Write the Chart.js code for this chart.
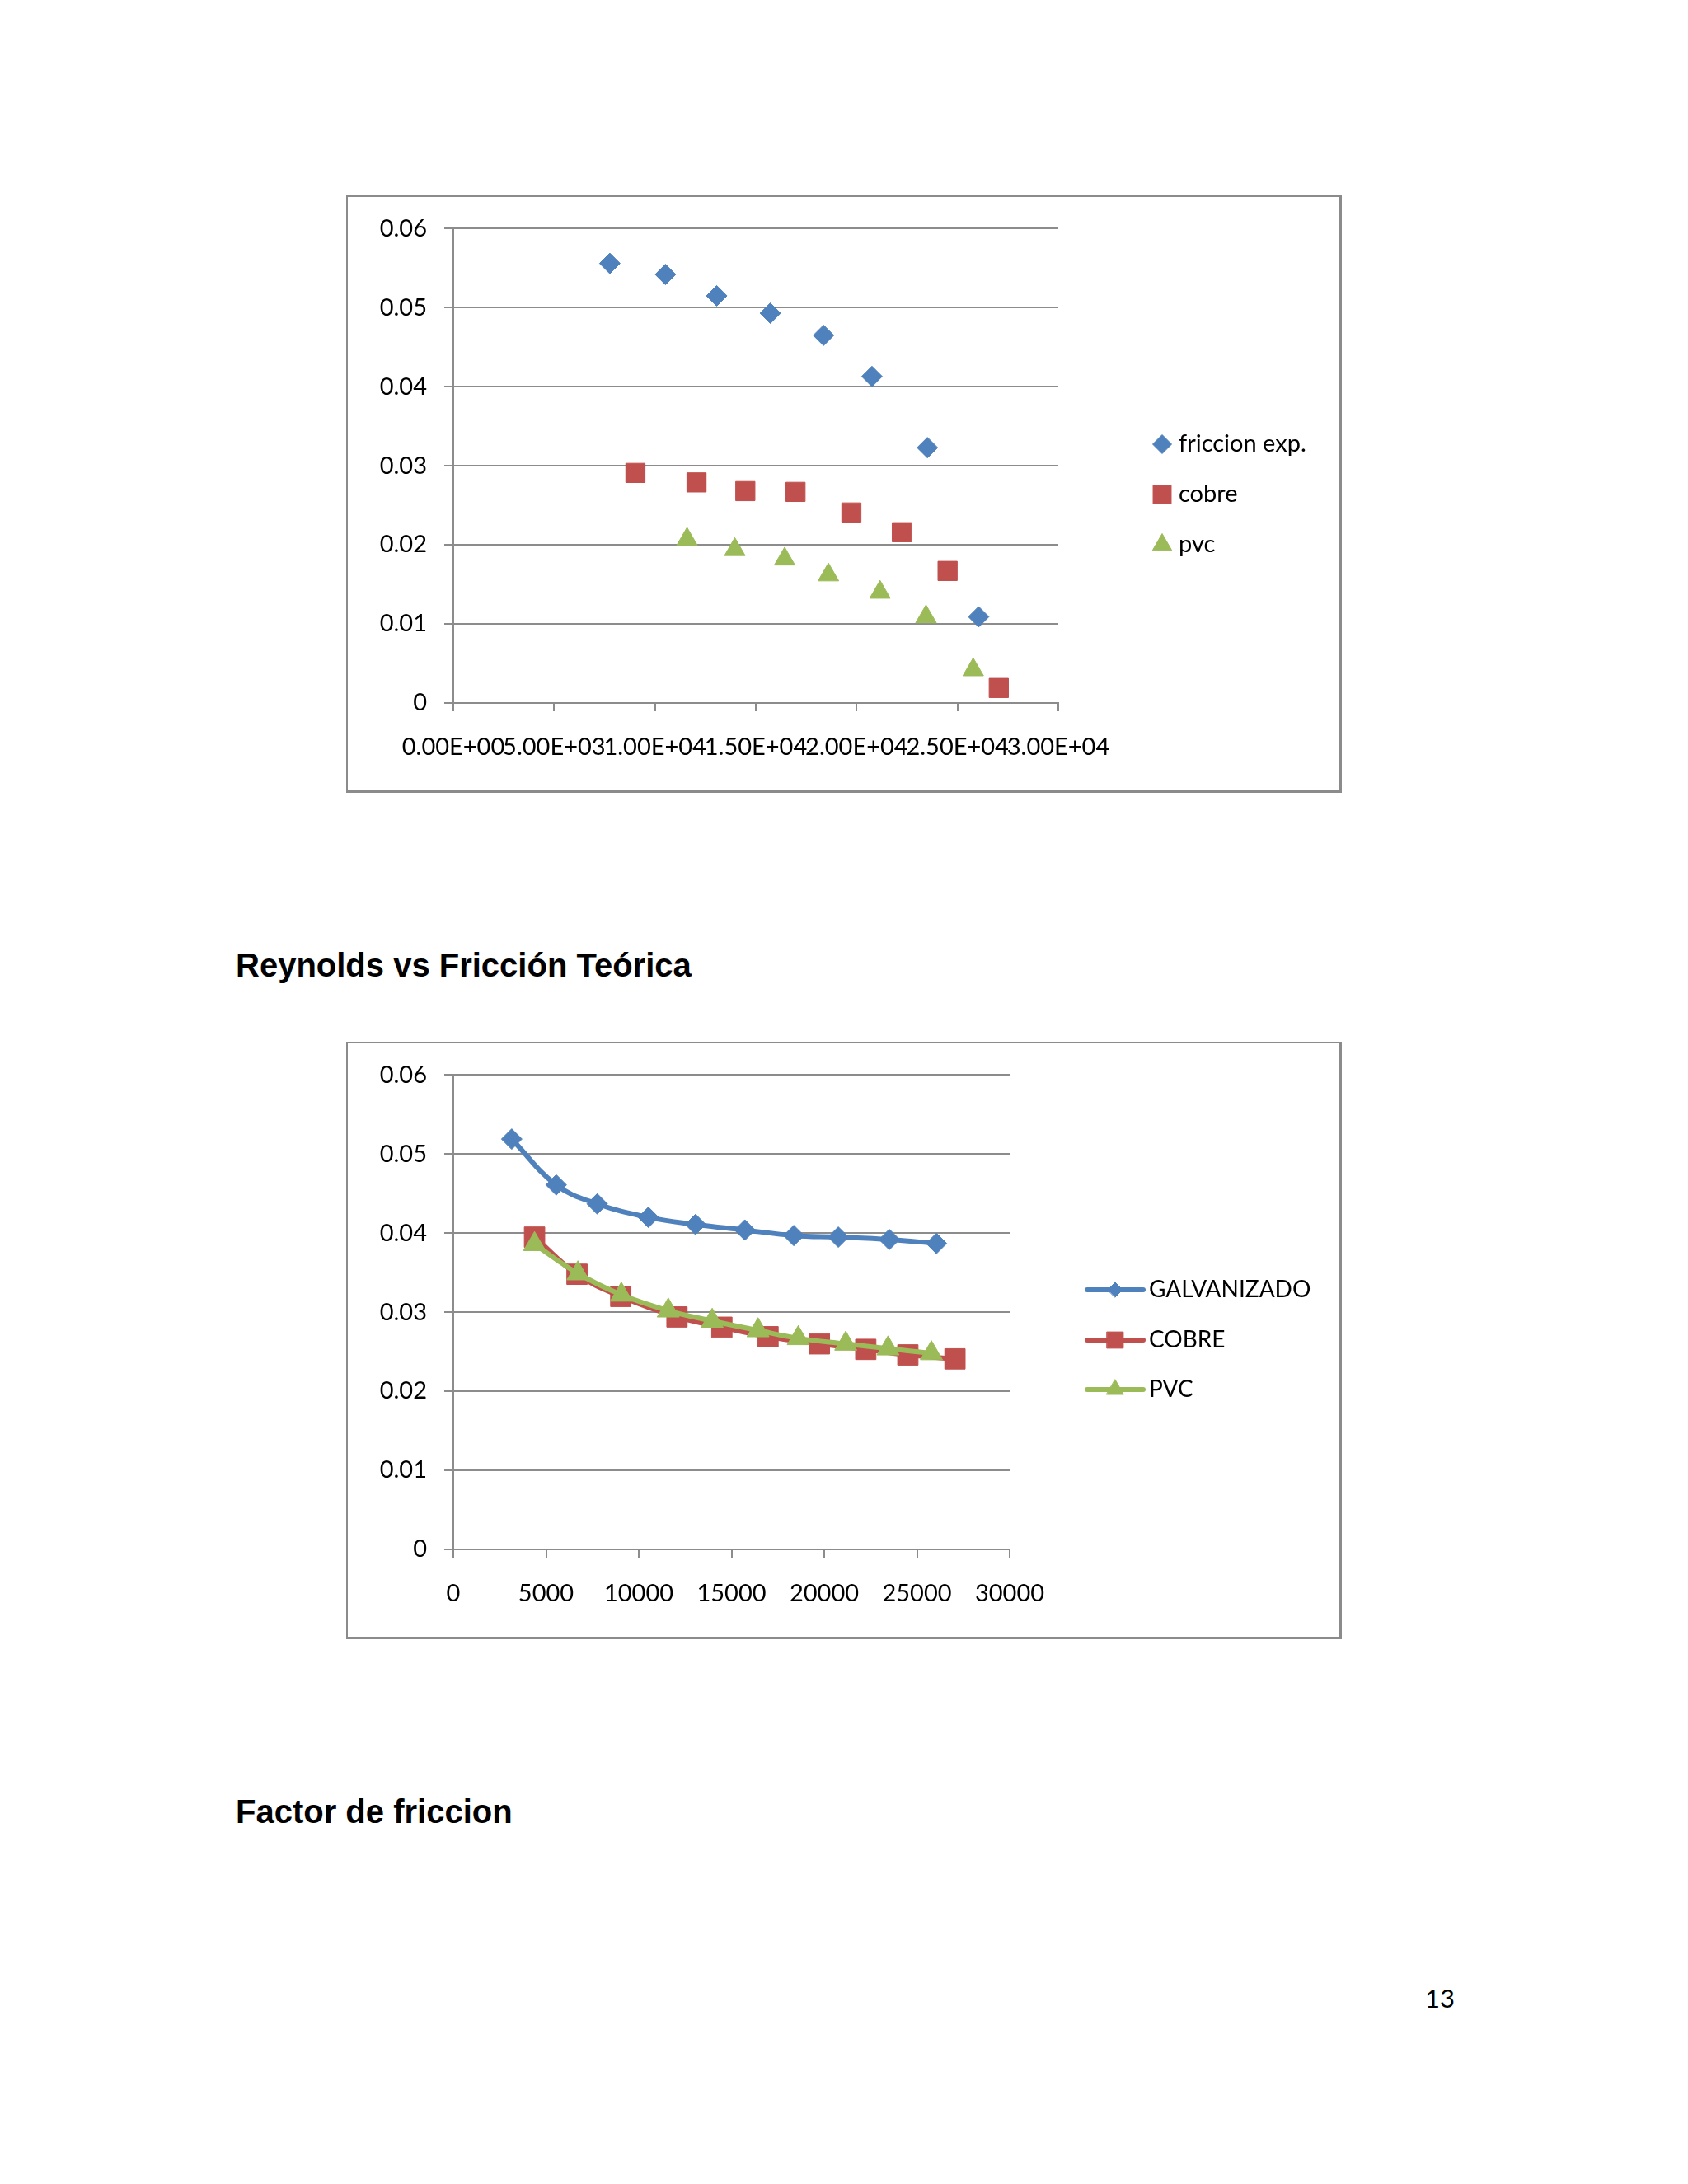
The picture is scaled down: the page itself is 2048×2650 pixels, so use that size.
<!DOCTYPE html>
<html>
<head>
<meta charset="utf-8">
<script src="https://cdn.jsdelivr.net/npm/chart.js@4.4.1/dist/chart.umd.min.js"></script>
<style>
  body { margin: 0; background: #fff; }
  .page { position: relative; width: 2048px; height: 2650px; background: #fff; overflow: hidden; }
  .chartBox {
    position: absolute; left: 420px; width: 1208px; height: 725px;
    box-sizing: border-box; background: #fff;
    border: 2px solid #8b8b8b; border-right-width: 3px; border-bottom-width: 3px;
  }
  .chartBox canvas { position: absolute; left: 0; top: 0; }
  .heading {
    position: absolute; left: 286px; white-space: nowrap; color: #000;
    font-family: 'Liberation Sans', Arial, sans-serif; font-weight: bold;
    font-size: 40px; line-height: 40px;
  }
  .pageNum { position: absolute; left: 1729px; top: 2406px; font-family: Lato, sans-serif; font-size: 31px; line-height: 37px; color: #000; }
</style>
</head>
<body>
<div class="page">
  <div class="chartBox" style="top:237px"><canvas id="chartExp" width="1203" height="720"></canvas></div>
  <div class="heading" style="top:1151px">Reynolds vs Fricción Teórica</div>
  <div class="chartBox" style="top:1264px"><canvas id="chartTeo" width="1203" height="720"></canvas></div>
  <div class="heading" style="top:2178px">Factor de friccion</div>
  <div class="pageNum">13</div>
</div>

<script>
// --- experimental chart (scatter only) ---
const reExp = [7760, 10520, 13060, 15720, 18360, 20760, 23510, 26050];
const friccionExp = [0.0556, 0.0542, 0.0515, 0.0493, 0.0465, 0.0413, 0.0323, 0.0109];
const reCobreExp = [9030, 12060, 14480, 16970, 19740, 22240, 24510, 27050];
const cobreExp = [0.0291, 0.0279, 0.0268, 0.0267, 0.0241, 0.0216, 0.0167, 0.0019];
const rePvcExp = [11590, 13960, 16430, 18600, 21160, 23440, 25780];
const pvcExp = [0.0207, 0.0194, 0.0182, 0.0162, 0.0140, 0.0109, 0.0042];

// --- theoretical chart (smoothed lines) ---
const reGalv = [3150, 5550, 7760, 10520, 13060, 15720, 18360, 20760, 23510, 26050];
const galvanizado = [0.0519, 0.0461, 0.0437, 0.0420, 0.0411, 0.0404, 0.0397, 0.0395, 0.0392, 0.0387];
const reCobre = [4380, 6670, 9030, 12060, 14480, 16970, 19740, 22240, 24510, 27050];
const cobre = [0.0395, 0.0348, 0.0320, 0.0294, 0.0281, 0.0269, 0.0260, 0.0253, 0.0246, 0.0241];
const rePvc = [4380, 6720, 9060, 11590, 13960, 16430, 18600, 21160, 23440, 25780];
const pvc = [0.0386, 0.0349, 0.0322, 0.0302, 0.0289, 0.0277, 0.0267, 0.0260, 0.0254, 0.0248];

// tick labels
const xTicksSci = ['0.00E+00', '5.00E+03', '1.00E+04', '1.50E+04', '2.00E+04', '2.50E+04', '3.00E+04'];
const xTicksPlain = ['0', '5000', '10000', '15000', '20000', '25000', '30000'];
const yTicks = ['0', '0.01', '0.02', '0.03', '0.04', '0.05', '0.06'];

const BLUE = '#4F81BD';
const RED = '#C0504D';
const GREEN = '#9BBB59';
const AXIS = '#8c8c8c';

function toPoints(xs, ys) {
  return xs.map((x, i) => ({ x: x, y: ys[i] }));
}

// legend drawn at the right side of the box, like the excel one
const sideLegend = {
  id: 'sideLegend',
  afterDraw(chart, args, opts) {
    const ctx = chart.ctx;
    ctx.save();
    ctx.font = opts.font;
    ctx.textBaseline = 'middle';
    chart.data.datasets.forEach((ds, i) => {
      const y = opts.rows[i];
      if (opts.lineHalf) {
        ctx.strokeStyle = ds.borderColor;
        ctx.lineWidth = ds.borderWidth;
        ctx.lineCap = 'round';
        ctx.beginPath();
        ctx.moveTo(opts.x - opts.lineHalf, y);
        ctx.lineTo(opts.x + opts.lineHalf, y);
        ctx.stroke();
      }
      ctx.fillStyle = ds.pointBackgroundColor;
      ctx.strokeStyle = ds.pointBorderColor;
      ctx.lineWidth = 1;
      Chart.helpers.drawPoint(ctx, { pointStyle: ds.pointStyle, radius: opts.radii[i], borderWidth: 1, rotation: 0 }, opts.x, y);
      ctx.fillStyle = '#000';
      ctx.fillText(ds.label, opts.textX, y);
    });
    ctx.restore();
  }
};

function makeDataset(label, xs, ys, color, style, radius, withLine, order) {
  return {
    label: label,
    data: toPoints(xs, ys),
    backgroundColor: color,
    borderColor: color,
    pointBackgroundColor: color,
    pointBorderColor: color,
    pointBorderWidth: 1,
    pointStyle: style,
    pointRadius: radius,
    pointHoverRadius: radius,
    showLine: withLine,
    borderWidth: withLine ? 6 : 0,
    tension: 0.4,
    order: order
  };
}

function makeChart(element, datasets, xLabels, xFontSize, rightPad, legendOpts) {
  const chartOptions = {
    responsive: false,
    animation: false,
    events: [],
    layout: { padding: { left: 0, top: 37, right: rightPad, bottom: 0 } },
    scales: {
      x: {
        type: 'linear',
        min: 0,
        max: 30000,
        afterFit: (s) => { s.height = 106; },
        ticks: {
          stepSize: 5000,
          autoSkip: false,
          maxRotation: 0,
          minRotation: 0,
          padding: 26,
          color: '#000',
          font: { family: 'Lato', size: xFontSize },
          callback: (v, i) => xLabels[i]
        },
        grid: { drawOnChartArea: false, drawTicks: true, tickLength: 10, color: AXIS, lineWidth: 2 },
        border: { display: true, color: AXIS, width: 2 }
      },
      y: {
        min: 0,
        max: 0.06,
        afterFit: (s) => { s.width = 128; },
        ticks: {
          stepSize: 0.01,
          padding: 21,
          color: '#000',
          font: { family: 'Lato', size: 29 },
          callback: (v, i) => yTicks[i]
        },
        grid: { color: AXIS, lineWidth: 2, tickLength: 11 },
        border: { display: true, color: AXIS, width: 2 }
      }
    },
    plugins: {
      legend: { display: false },
      tooltip: { enabled: false },
      sideLegend: legendOpts
    }
  };

  const chartConfig = {
    type: 'scatter',
    data: { datasets: datasets },
    options: chartOptions,
    plugins: [sideLegend]
  };

  return new Chart(element, chartConfig);
}

makeChart(
  document.getElementById('chartExp'),
  [
    makeDataset('friccion exp.', reExp, friccionExp, BLUE, 'rectRot', 12.5, false, 0),
    makeDataset('cobre', reCobreExp, cobreExp, RED, 'rect', 16.5, false, 1),
    makeDataset('pvc', rePvcExp, pvcExp, GREEN, 'triangle', 14.5, false, 2)
  ],
  xTicksSci, 29, 341,
  { font: '29px Lato', x: 988, textX: 1008, rows: [300, 361, 422], radii: [11.5, 15.5, 13.5], lineHalf: 0 }
);

makeChart(
  document.getElementById('chartTeo'),
  [
    makeDataset('GALVANIZADO', reGalv, galvanizado, BLUE, 'rectRot', 12.5, true, 2),
    makeDataset('COBRE', reCobre, cobre, RED, 'rect', 17.5, true, 1),
    makeDataset('PVC', rePvc, pvc, GREEN, 'triangle', 15.5, true, 0)
  ],
  xTicksPlain, 29, 400,
  { font: '28px Lato', x: 931, textX: 972, rows: [299, 360, 420], radii: [9, 14, 12], lineHalf: 34 }
);
</script>
</body>
</html>
